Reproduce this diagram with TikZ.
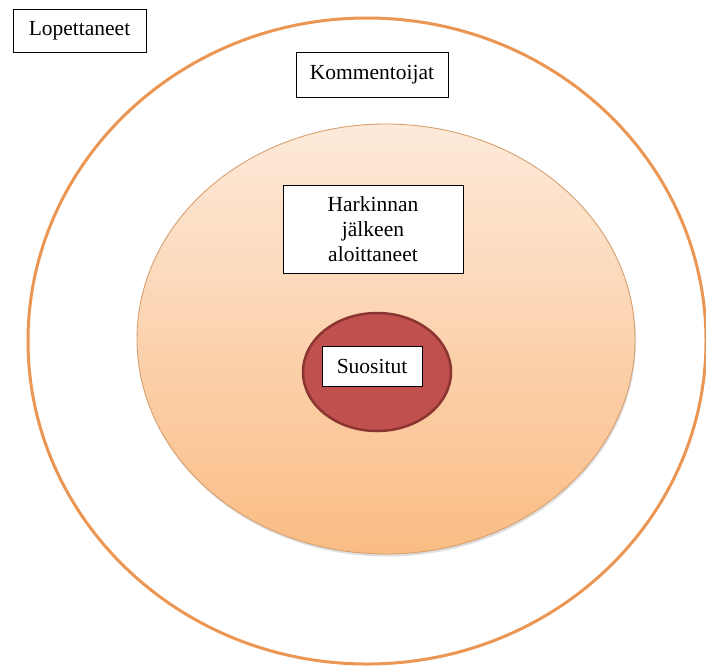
\documentclass[tikz,border=0pt]{standalone}
\usepackage{fontspec}
\setmainfont{Liberation Serif}
\usetikzlibrary{shadows}
\definecolor{outerorange}{RGB}{236,150,84}
\definecolor{midtop}{RGB}{253,234,218}
\definecolor{midbot}{RGB}{250,188,132}
\definecolor{midedge}{RGB}{214,160,112}
\definecolor{innerfill}{RGB}{192,80,77}
\definecolor{inneredge}{RGB}{140,52,50}
\tikzset{
  labelbox/.style={draw=black, line width=0.9pt, fill=white, align=center,
    font=\fontsize{21.5}{25}\selectfont, inner sep=0pt},
}
\begin{document}
\begin{tikzpicture}[x=1pt,y=-1pt]
\useasboundingbox (0,0) rectangle (706,670);
\fill[white] (0,0) rectangle (706,670);
% outer circle
\draw[outerorange, line width=3pt] (367,341) ellipse [x radius=339, y radius=323];
% middle ellipse
\shade[top color=midtop, bottom color=midbot, draw=midedge, line width=0.9pt,
  drop shadow={opacity=0.25, shadow xshift=1pt, shadow yshift=-2.5pt}]
  (386,339) ellipse [x radius=249, y radius=215];
% inner circle
\draw[fill=innerfill, draw=inneredge, line width=2.5pt] (377,372) ellipse [x radius=74, y radius=59];
% labels
\node[labelbox, minimum width=133pt, minimum height=43pt] (lop) at (79.5,30.5) {Lopettaneet};
\node[labelbox, minimum width=152pt, minimum height=45pt] (kom) at (372,74.5) {Kommentoijat};
\node[labelbox, minimum width=180pt, minimum height=88pt] (har) at (373,229) {Harkinnan\\jälkeen\\aloittaneet};
\node[labelbox, minimum width=100pt, minimum height=40pt] (suo) at (372,366) {Suositut};
\end{tikzpicture}
\end{document}
